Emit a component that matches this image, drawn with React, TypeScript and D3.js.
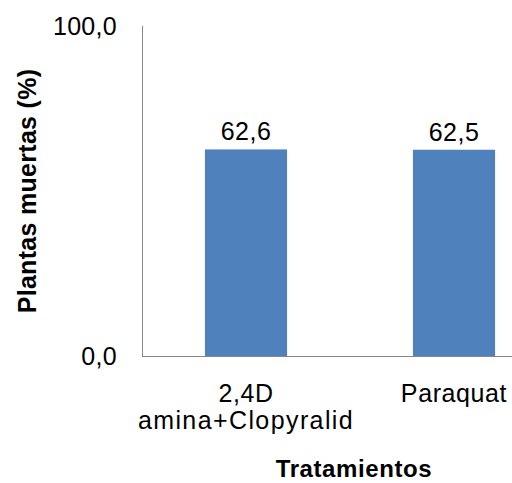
import React from "react";
import * as d3 from "d3";

const categories: string[][] = [["2,4D", "amina+Clopyralid"], ["Paraquat"]];
const values: number[] = [62.6, 62.5];
const yTicks: number[] = [0, 100];

const W = 512;
const H = 483;
const margin = { left: 142, right: -46, top: 26, bottom: 127 };

const fmt = (v: number) => d3.format(".1f")(v).replace(".", ",");

export default function App() {
  const x = d3
    .scaleBand<number>()
    .domain(values.map((_, i) => i))
    .range([margin.left, W - margin.right])
    .paddingInner(0.605)
    .paddingOuter(0.3025);
  const y = d3.scaleLinear().domain([0, 100]).range([H - margin.bottom, margin.top]);
  const font = "'Liberation Sans', Arial, sans-serif";
  const axisColor = "#868686";
  const x0 = margin.left;
  const x1 = W - margin.right;
  const cx = (i: number) => (x(i) as number) + x.bandwidth() / 2;

  return (
    <svg
      width={W}
      height={H}
      style={{ position: "absolute", left: 0, top: 0, display: "block", background: "#fff" }}
      fontFamily={font}
    >
      {/* bars */}
      {values.map((v, i) => (
        <rect
          key={i}
          x={x(i)}
          y={y(v)}
          width={x.bandwidth()}
          height={y(0) - y(v)}
          fill="#4F81BD"
        />
      ))}
      {/* value labels */}
      {values.map((v, i) => (
        <text
          key={"l" + i}
          x={cx(i)}
          y={y(v) - 9}
          textAnchor="middle"
          fontSize={25}
          letterSpacing={0.5}
          fill="#000"
        >
          {fmt(v)}
        </text>
      ))}
      {/* axes */}
      <line x1={x0 + 0.5} x2={x0 + 0.5} y1={y(100)} y2={y(0)} stroke={axisColor} strokeWidth={1} />
      <line x1={x0} x2={x1} y1={y(0) + 0.5} y2={y(0) + 0.5} stroke={axisColor} strokeWidth={1} />
      {yTicks.map((t) => (
        <text
          key={"t" + t}
          x={117}
          y={y(t)}
          dy="0.36em"
          textAnchor="end"
          fontSize={25}
          letterSpacing={0.3}
          fill="#000"
        >
          {fmt(t)}
        </text>
      ))}
      {/* category labels */}
      {categories.map((lines, i) => (
        <text key={"c" + i} x={cx(i)} y={402} textAnchor="middle" fontSize={25} fill="#000">
          {lines.map((s, j) => (
            <tspan
              key={j}
              x={cx(i)}
              dy={j === 0 ? 0 : 27}
              letterSpacing={s.length > 10 ? 1.4 : 0.6}
            >
              {s}
            </tspan>
          ))}
        </text>
      ))}
      {/* axis titles */}
      <text
        x={(x0 + x1) / 2 + 4}
        y={477}
        textAnchor="middle"
        fontSize={24}
        fontWeight="bold"
        letterSpacing={0.6}
        fill="#000"
      >
        Tratamientos
      </text>
      <text
        transform={`translate(36, ${(y(0) + y(100)) / 2}) rotate(-90)`}
        textAnchor="middle"
        fontSize={25}
        fontWeight="bold"
        letterSpacing={0.3}
        fill="#000"
      >
        Plantas muertas (%)
      </text>
    </svg>
  );
}
